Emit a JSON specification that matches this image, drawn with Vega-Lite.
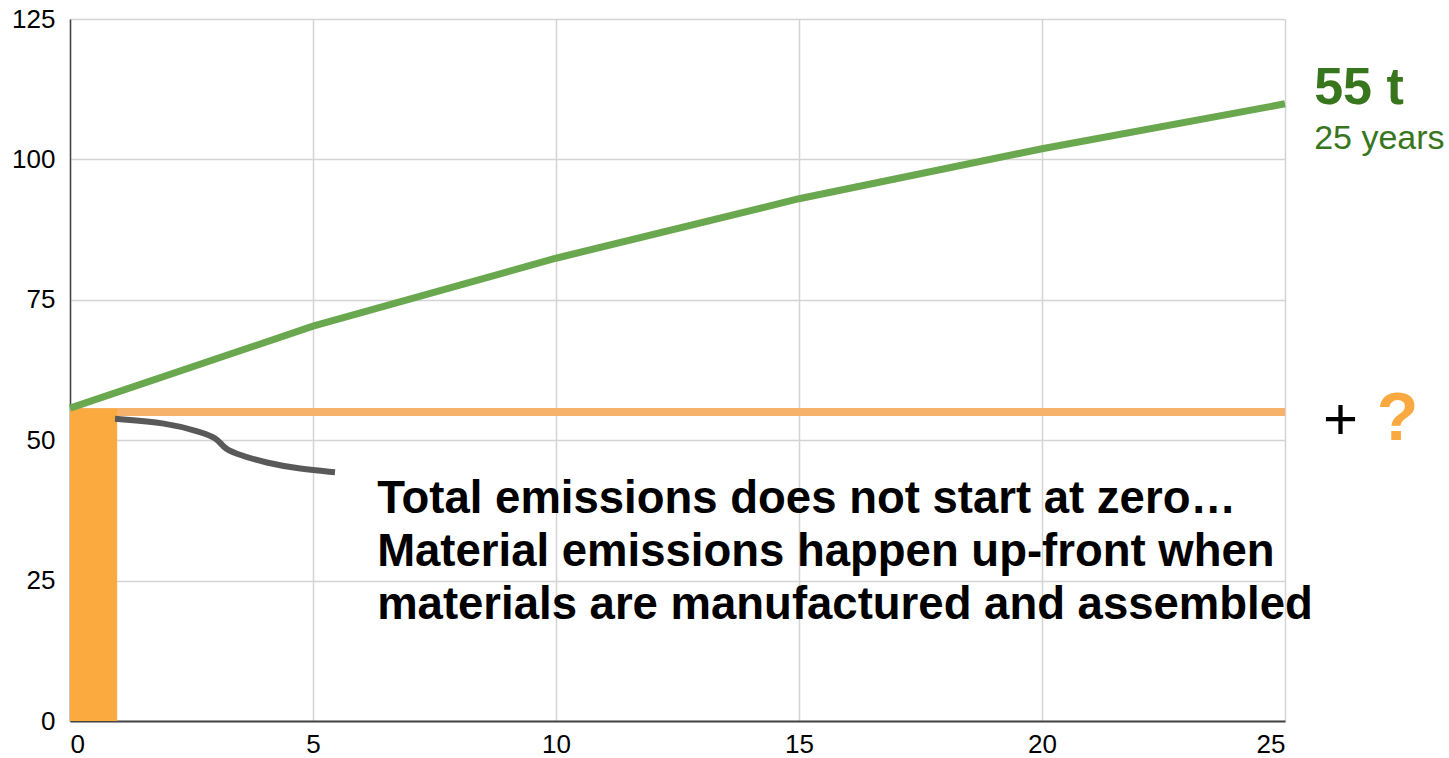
{
  "$schema": "https://vega.github.io/schema/vega-lite/v6.json",
  "width": 1215,
  "height": 702,
  "autosize": {"type": "none"},
  "padding": {"left": 70, "top": 19, "right": 164, "bottom": 37},
  "background": "white",
  "config": {"view": {"stroke": null}, "font": "Liberation Sans"},
  "datasets": {
    "baseline": [{"year": 0, "value": 55}, {"year": 25, "value": 55}],
    "material": [{"start": 0, "end": 0.97, "value": 55.6}],
    "total": [
      {"year": 0, "value": 55.7},
      {"year": 5, "value": 70.3},
      {"year": 10, "value": 82.4},
      {"year": 15, "value": 93.0},
      {"year": 20, "value": 101.9},
      {"year": 25, "value": 109.9}
    ],
    "connector": [
      {"year": 0.926, "value": 53.8},
      {"year": 1.996, "value": 53.1},
      {"year": 2.675, "value": 51.5},
      {"year": 3.025, "value": 50.4},
      {"year": 3.148, "value": 48.8},
      {"year": 3.354, "value": 47.7},
      {"year": 4.053, "value": 45.9},
      {"year": 4.733, "value": 44.9},
      {"year": 5.453, "value": 44.3}
    ]
  },
  "layer": [
    {
      "data": {"name": "baseline"},
      "mark": {"type": "line", "color": "#f6b26b", "strokeWidth": 8},
      "encoding": {
        "x": {
          "field": "year", "type": "quantitative",
          "scale": {"domain": [0, 25], "nice": false, "zero": false},
          "axis": {
            "values": [0, 5, 10, 15, 20, 25], "title": null, "grid": true,
            "gridColor": "#d4d4d4", "gridWidth": 1.5, "ticks": false,
            "domainColor": "#444444", "domainWidth": 2,
            "labelFontSize": 26, "labelColor": "#000000", "labelPadding": 10,
            "labelFont": "Liberation Sans"
          }
        },
        "y": {
          "field": "value", "type": "quantitative",
          "scale": {"domain": [0, 125], "nice": false},
          "axis": {
            "values": [0, 25, 50, 75, 100, 125], "title": null, "grid": true,
            "gridColor": "#d4d4d4", "gridWidth": 1.5, "ticks": false,
            "domainColor": "#444444", "domainWidth": 1.5,
            "labelFontSize": 26, "labelColor": "#000000", "labelPadding": 15,
            "labelFont": "Liberation Sans"
          }
        }
      }
    },
    {
      "data": {"name": "material"},
      "mark": {"type": "rect", "color": "#fbaa40"},
      "encoding": {
        "x": {"field": "start", "type": "quantitative"},
        "x2": {"field": "end"},
        "y": {"field": "value", "type": "quantitative"},
        "y2": {"datum": 0}
      }
    },
    {
      "data": {"name": "total"},
      "mark": {"type": "line", "color": "#6aa84f", "strokeWidth": 7},
      "encoding": {
        "x": {"field": "year", "type": "quantitative"},
        "y": {"field": "value", "type": "quantitative"}
      }
    },
    {
      "data": {"name": "connector"},
      "mark": {"type": "line", "color": "#595959", "strokeWidth": 6, "interpolate": "basis"},
      "encoding": {
        "x": {"field": "year", "type": "quantitative"},
        "y": {"field": "value", "type": "quantitative"}
      }
    },
    {
      "data": {"values": [{"note": ["Total emissions does not start at zero…", "Material emissions happen up-front when", "materials are manufactured and assembled"]}]},
      "mark": {"type": "text", "align": "left", "baseline": "alphabetic", "fontSize": 45.5, "fontWeight": "bold", "lineHeight": 53, "color": "#000000", "font": "Liberation Sans"},
      "encoding": {
        "x": {"datum": 6.32},
        "y": {"datum": 37.1},
        "text": {"field": "note"}
      }
    },
    {
      "data": {"values": [{"label": "55 t"}]},
      "mark": {"type": "text", "align": "left", "baseline": "alphabetic", "fontSize": 52, "fontWeight": "bold", "color": "#38761d", "font": "Liberation Sans"},
      "encoding": {"x": {"datum": 25.6}, "y": {"datum": 109.8}, "text": {"field": "label"}}
    },
    {
      "data": {"values": [{"label": "25 years"}]},
      "mark": {"type": "text", "align": "left", "baseline": "alphabetic", "fontSize": 34, "color": "#38761d", "font": "Liberation Sans"},
      "encoding": {"x": {"datum": 25.6}, "y": {"datum": 101.8}, "text": {"field": "label"}}
    },
    {
      "data": {"values": [{"label": "+"}]},
      "mark": {"type": "text", "align": "left", "baseline": "alphabetic", "fontSize": 60, "color": "#000000", "font": "Liberation Sans"},
      "encoding": {"x": {"datum": 25.78}, "y": {"datum": 50.2}, "text": {"field": "label"}}
    },
    {
      "data": {"values": [{"label": "?"}]},
      "mark": {"type": "text", "align": "left", "baseline": "alphabetic", "fontSize": 68, "fontWeight": "bold", "color": "#f9a93f", "font": "Liberation Sans"},
      "encoding": {"x": {"datum": 26.89}, "y": {"datum": 50.0}, "text": {"field": "label"}}
    }
  ]
}
